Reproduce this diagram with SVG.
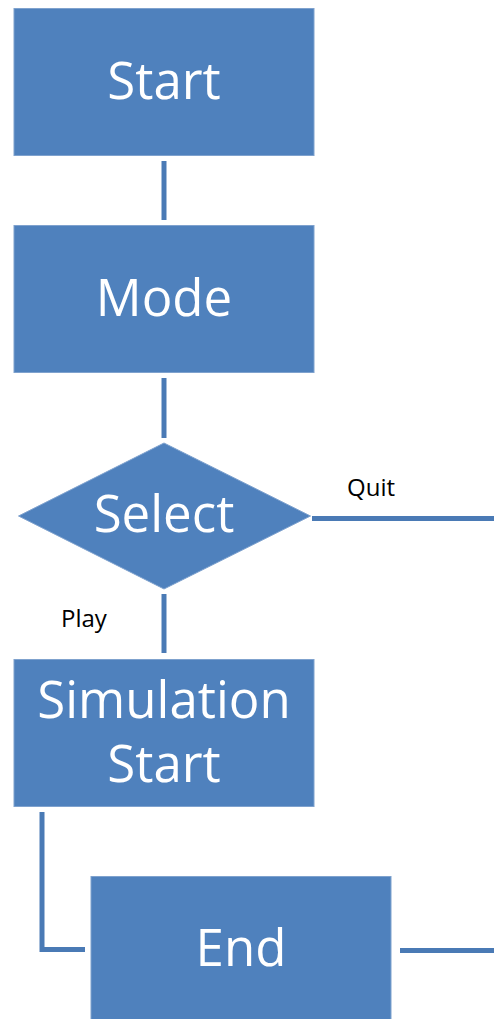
<svg xmlns="http://www.w3.org/2000/svg" width="494" height="1019" viewBox="0 0 494 1019">
  <style>
    .box { fill: #4F81BD; stroke: #7FA2CE; stroke-width: 1; }
    .big { fill: #FFFFFF; font-family: "Open Sans", "Liberation Sans", sans-serif; font-size: 51px; text-anchor: middle; }
    .lbl { fill: #000000; font-family: "Open Sans", "Liberation Sans", sans-serif; font-size: 24px; }
    .wire { fill: none; stroke: #4A7AB5; stroke-width: 5; }
  </style>
  <rect width="494" height="1019" fill="#FFFFFF"/>

  <g id="connectors">
    <line class="wire" x1="164" y1="161" x2="164" y2="220" stroke="#3F6A9F"/>
    <line class="wire" x1="164" y1="378" x2="164" y2="438"/>
    <line class="wire" x1="312" y1="518.5" x2="494" y2="518.5"/>
    <line class="wire" x1="164" y1="594" x2="164" y2="653"/>
    <polyline class="wire" points="42,812 42,949.5 85,949.5"/>
    <line class="wire" x1="400" y1="950.5" x2="494" y2="950.5"/>
    <text class="lbl" x="347" y="496">Quit</text>
    <text class="lbl" x="61" y="627">Play</text>
  </g>

  <g id="start">
    <rect class="box" x="14" y="8.5" width="300" height="147"/>
    <text class="big" x="164" y="99">Start</text>
  </g>

  <g id="mode">
    <rect class="box" x="14" y="225.5" width="300" height="147"/>
    <text class="big" x="164" y="316">Mode</text>
  </g>

  <g id="select">
    <polygon class="box" points="164,443 310.5,516 164,589 18.5,516"/>
    <text class="big" x="164" y="532">Select</text>
  </g>

  <g id="simulation-start">
    <rect class="box" x="14" y="659.5" width="300" height="147"/>
    <text class="big" x="164" y="718">Simulation</text>
    <text class="big" x="164" y="782">Start</text>
  </g>

  <g id="end">
    <rect class="box" x="91" y="876.5" width="300" height="150"/>
    <text class="big" x="241" y="966">End</text>
  </g>
</svg>
